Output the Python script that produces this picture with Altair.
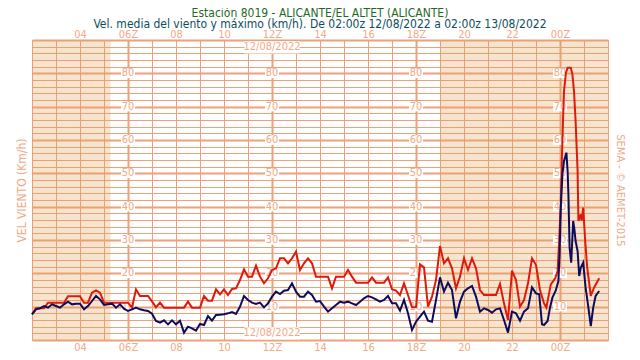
import altair as alt
import pandas as pd

# ---- data: 10-min steps after 02:00Z 12/08/2022 ----
red_v = [7.7, 9.5, 9.5, 9.5, 11.2, 11.2, 11.2, 11.2, 11.2, 13.1, 13.1, 13.1, 13.1, 11.2, 11.2, 14.2,
         14.9, 14.2, 11.2, 11.2, 11.2, 11.2, 11.2, 11.2, 11.2, 9.7, 15.2, 13.2, 13.2, 13.2, 11.6, 9.8,
         11.2, 9.7, 9.7, 9.7, 9.7, 9.7, 9.7, 11.5, 9.7, 9.7, 9.7, 13.2, 11.8, 11.8, 15.2, 13.7,
         15.2, 13.5, 15.3, 15.5, 18, 21.2, 19, 19, 22.3, 19, 17, 18.5, 21, 21.5, 24.5, 24.5,
         23, 24.5, 26.5, 21, 23, 24.5, 23, 19, 19, 19, 19, 15.5, 19, 19, 19, 21,
         19, 17.2, 17.2, 17.2, 17.2, 18.8, 17.2, 17.2, 17.2, 18.8, 15.2, 14.8, 13.5, 17, 13.5, 9.8,
         9.8, 22.7, 21.8, 10, 13, 18, 28.2, 23, 24.5, 21.5, 15.5, 19, 24.5, 21, 24.5, 21.5,
         15, 13.5, 13.5, 13.5, 13.5, 16.8, 11, 6, 20.8, 18, 10, 12, 17, 24.5, 22.5, 15, 11]
red_peak_i = [128.6, 129.7, 130.8, 131.4, 131.8, 132.2, 132.5, 132.8, 133.0, 133.5, 133.9, 134.7,
              135.1, 135.5, 135.9, 136.4, 136.6, 137.2, 137.4, 137.8, 138.3, 138.8, 139.7, 140.5, 141.8]
red_peak_v = [9.7, 16.7, 18.5, 20.7, 29.7, 41.7, 55.7, 67.7, 74.7, 80.2, 81.7, 81.7,
              79.7, 74.7, 65.7, 50.7, 35.7, 37.7, 35.7, 39.7, 29.7, 21.7, 13.2, 15.7, 18.5]

navy_v = [7.7, 9.2, 9.5, 10.2, 9.7, 10.7, 10.2, 9.7, 10.7, 11.5, 10.7, 10.9, 10.9, 9.2, 10.2, 11.7,
          13.2, 12.2, 10.5, 10.7, 10.9, 9.7, 10.7, 9.4, 8.7, 9.2, 9.7, 9.2, 8.9, 8.7, 7.9, 5.7,
          5.2, 5.9, 4.7, 5.9, 4.7, 5.8, 2.2, 4, 3.5, 2.8, 4.8, 4.5, 7.2, 5.8, 7.5, 7.6,
          7.7, 8, 8.4, 7.8, 10, 13.2, 12, 11.2, 10.8, 11.2, 9.8, 11, 13, 14.5, 13.8, 14.8,
          15, 17, 14.5, 13, 13, 14.5, 13.5, 11.5, 11.7, 10, 8.5, 9.5, 10.5, 11.5, 11.2, 11.5,
          11, 10.5, 11.5, 12.5, 13.2, 12.8, 12.2, 11.5, 12, 13.2, 11, 11, 8.8, 12, 8, 3,
          5.5, 7, 8.5, 5.8, 5.5, 12, 18.8, 14.5, 17.2, 15, 6.5, 11.5, 14.5, 15.5, 16.2, 13,
          8.5, 9.5, 9, 8.2, 9.2, 9.5, 6, 2.2, 8.5, 8, 5.8, 8.5, 9.5, 15.8, 14]
navy_peak_i = [126.8, 127.5, 128.0, 128.9, 129.5, 130.1, 130.9, 131.6, 131.9, 132.2, 132.6, 133.0,
               133.6, 133.9, 134.1, 134.4, 134.8, 135.3, 135.6, 135.9, 136.4, 136.8, 137.2, 137.8,
               138.4, 139.1, 139.7, 140.3, 140.9, 141.8]
navy_peak_v = [13.7, 4.7, 4.5, 5.7, 9.7, 12.7, 14.7, 17.7, 25.7, 39.7, 49.7, 53.7,
               56.2, 50.7, 43.7, 27.7, 23.2, 35.7, 33.2, 29.7, 26.7, 19.2, 21.7, 23.2,
               15.7, 9.7, 4.2, 9.7, 13.2, 14.7]

# night periods (hours after 02:00Z)
night_start = [0, 17.0]
night_end = [3.27, 24]

# x tick labels (hours after 02:00Z)
tick_hours = [2, 4, 6, 8, 10, 12, 14, 16, 18, 20, 22]
tick_labels = ["04", "06Z", "08", "10", "12Z", "14", "16", "18Z", "20", "22", "00Z"]

# in-plot y labels
ylab_hours = [4, 10, 16, 22]
ylab_values = [10, 20, 30, 40, 50, 60, 70, 80]
date_label = "12/08/2022"
date_hour = 10
date_values = [87.8, 2.0]

title_text = "Estación 8019 - ALICANTE/EL ALTET (ALICANTE)"
subtitle_text = "Vel. media del viento y máximo (km/h). De 02:00z 12/08/2022 a 02:00z 13/08/2022"

# ---- build tables ----
def series(vals, peak_i, peak_v):
    idx = list(range(len(vals))) + peak_i
    v = list(vals) + peak_v
    return pd.DataFrame({"h": [i / 6 for i in idx], "v": v})

df_red = series(red_v, red_peak_i, red_peak_v)
df_navy = series(navy_v, navy_peak_i, navy_peak_v)
df_night = pd.DataFrame({"s": night_start, "e": night_end})
df_ylab = pd.DataFrame([{"h": h, "v": v, "t": str(v)} for h in ylab_hours for v in ylab_values])
df_date = pd.DataFrame({"h": [date_hour] * len(date_values), "v": date_values, "t": [date_label] * len(date_values)})

W, H = 576, 300
GRID = "#EDA07A"
LAB = "#F0AA86"
FONT = "Liberation Sans Narrow, DejaVu Sans Condensed, Liberation Sans, sans-serif"

label_expr = ""
for h, t in zip(tick_hours, tick_labels):
    label_expr += f"datum.value == {h} ? '{t}' : "
label_expr += "''"

xs = alt.Scale(domain=[0, 24], nice=False, zero=False)
ys = alt.Scale(domain=[0, 90], nice=False, zero=True)

common_x_axis = dict(values=list(range(25)), labelExpr=label_expr, ticks=False, domain=False,
                     labelColor=LAB, labelFont=FONT, labelFontSize=11, labelPadding=1,
                     labelOverlap=False, labelFlush=False, title=None)

axis_bottom = alt.Axis(orient="bottom", grid=True, gridColor=GRID, gridOpacity=1,
                       gridWidth={"condition": {"test": "datum.value % 6 == 4", "value": 2}, "value": 1},
                       **common_x_axis)
axis_top = alt.Axis(orient="top", grid=False, **common_x_axis)

axis_left = alt.Axis(orient="left", values=list(range(0, 91, 2)), grid=True, gridColor=GRID, gridOpacity=1,
                     gridWidth={"condition": {"test": "datum.value % 10 == 0", "value": 2}, "value": 1},
                     labels=False, ticks=False, domain=False, title="VEL VIENTO (Km/h)",
                     titleColor=LAB, titleFont=FONT, titleFontSize=12, titleFontWeight="normal",
                     titlePadding=4)
axis_right = alt.Axis(orient="right", grid=False, labels=False, ticks=False, domain=False,
                      title="SEMA - © AEMET-2015", titleAngle=90, titleColor=LAB, titleFont=FONT,
                      titleFontSize=11, titleFontWeight="normal", titlePadding=6)

night = alt.Chart(df_night).mark_rect(color="#E1A55C", opacity=0.3).encode(
    x=alt.X("s:Q", scale=xs, axis=axis_bottom), x2="e:Q")

box_small = alt.Chart(df_ylab).mark_point(
    shape="M-1,-0.68L1,-0.68L1,0.68L-1,0.68Z", size=196, filled=True, fill="white", opacity=1,
    strokeWidth=0).encode(x=alt.X("h:Q", scale=xs, axis=None), y=alt.Y("v:Q", scale=ys, axis=None))
txt_small = alt.Chart(df_ylab).mark_text(font=FONT, fontSize=11, color=LAB, baseline="middle",
                                         align="center").encode(
    x=alt.X("h:Q", scale=xs, axis=None), y=alt.Y("v:Q", scale=ys, axis=None), text="t:N")

box_date = alt.Chart(df_date).mark_point(
    shape="M-1,-0.22L1,-0.22L1,0.22L-1,0.22Z", size=3025, filled=True, fill="white", opacity=1,
    strokeWidth=0).encode(x=alt.X("h:Q", scale=xs, axis=None), y=alt.Y("v:Q", scale=ys, axis=None))
txt_date = alt.Chart(df_date).mark_text(font=FONT, fontSize=11, color=LAB, baseline="middle",
                                        align="center").encode(
    x=alt.X("h:Q", scale=xs, axis=None), y=alt.Y("v:Q", scale=ys, axis=None), text="t:N")

red = alt.Chart(df_red).mark_line(color="#DD1A0C", strokeWidth=2).encode(
    x=alt.X("h:Q", scale=xs, axis=axis_top), y=alt.Y("v:Q", scale=ys, axis=axis_left))
navy = alt.Chart(df_navy).mark_line(color="#0C0C5E", strokeWidth=2).encode(
    x=alt.X("h:Q", scale=xs, axis=None), y=alt.Y("v:Q", scale=ys, axis=axis_right))

title_mark = alt.Chart(pd.DataFrame({"t": [title_text]})).mark_text(
    font=FONT, fontSize=12, color="#1F6A1F", align="center", baseline="middle").encode(
    x=alt.value(W / 2), y=alt.value(-27), text="t:N")
subtitle_mark = alt.Chart(pd.DataFrame({"t": [subtitle_text]})).mark_text(
    font=FONT, fontSize=12, color="#0E4E5C", align="center", baseline="middle").encode(
    x=alt.value(W / 2), y=alt.value(-16), text="t:N")

chart = alt.layer(night, box_small, txt_small, box_date, txt_date, red, navy,
                  title_mark, subtitle_mark).resolve_axis(
    x="independent", y="independent"
).properties(
    width=W, height=H,
    padding={"left": 24, "top": 32, "right": 24, "bottom": 12},
    autosize=alt.AutoSizeParams(type="none"),
).configure_view(stroke=GRID, strokeWidth=2).configure(background="white")

chart.save("out.html", embed_options={"renderer": "svg", "actions": False})
